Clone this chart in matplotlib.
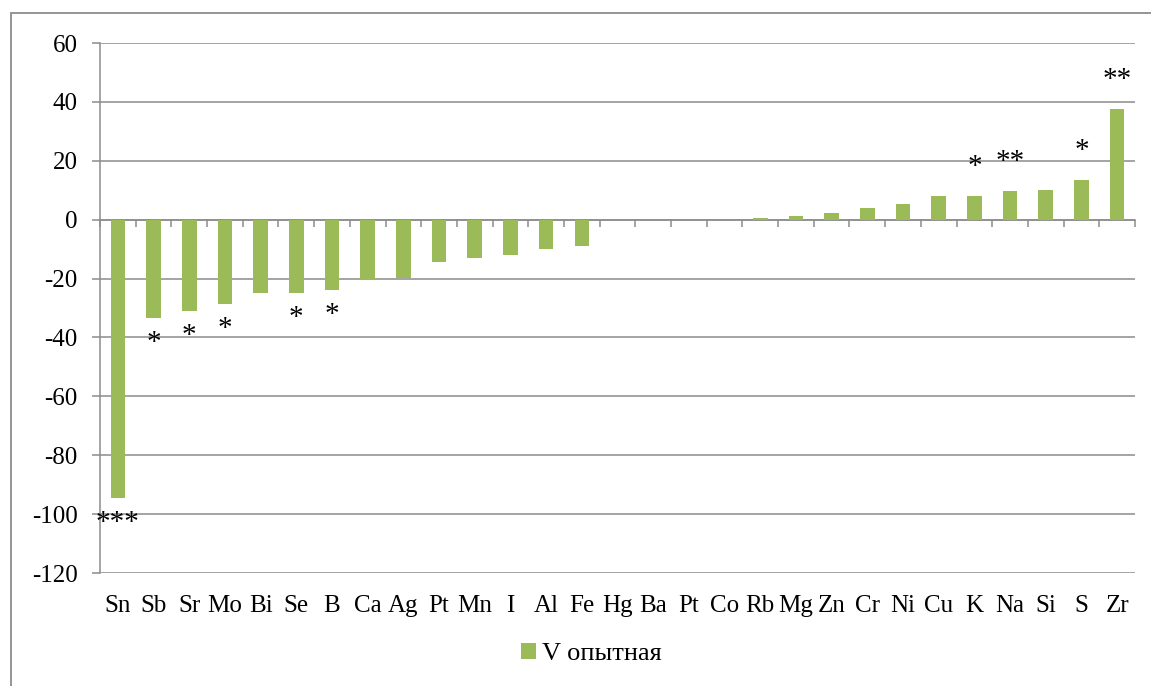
import numpy as np
import matplotlib.pyplot as plt
from matplotlib.patches import Rectangle

plt.rcParams['font.family'] = ['Liberation Serif', 'DejaVu Serif']
plt.rcParams['axes.unicode_minus'] = False

elements = ['Sn', 'Sb', 'Sr', 'Mo', 'Bi', 'Se', 'B', 'Ca', 'Ag', 'Pt', 'Mn', 'I',
            'Al', 'Fe', 'Hg', 'Ba', 'Pt', 'Co', 'Rb', 'Mg', 'Zn', 'Cr', 'Ni', 'Cu',
            'K', 'Na', 'Si', 'S', 'Zr']
v_exp = [-94.6, -33.4, -31.0, -28.7, -25.0, -25.0, -23.9, -20.6, -19.9, -14.3,
         -13.1, -12.1, -9.8, -9.1, 0, 0, 0, 0, 0.7, 1.4, 2.3, 3.8, 5.4, 8.2,
         8.2, 9.7, 10.2, 13.6, 37.5]
stars = ['***', '*', '*', '*', '', '*', '*', '', '', '', '', '', '', '', '', '',
         '', '', '', '', '', '', '', '', '*', '**', '', '*', '**']

green = '#9bbb59'
grid_gray = '#8c8c8c'

fig = plt.figure(figsize=(11.51, 6.86), dpi=100)
ax = fig.add_axes([0.0869, 0.1647, 0.8992, 0.7726])

x = np.arange(len(elements))
ax.bar(x, v_exp, width=0.41, color=green, linewidth=0, zorder=3, label='V опытная')

# significance marks below/above the bar ends
for xi, v, s in zip(x, v_exp, stars):
    if not s:
        continue
    off = 29 if v > 0 else -25
    ax.annotate(s, (xi, v), xytext=(0, off), textcoords='offset pixels',
                ha='center', va='center', fontsize=21, zorder=4)

ax.set_xlim(-0.5, len(elements) - 0.5)
ax.set_ylim(-120, 60)
ax.set_yticks(np.arange(-120, 61, 20))
ax.yaxis.grid(True, color=grid_gray, linewidth=1.1)
ax.set_axisbelow(True)

for side in ['top', 'right', 'bottom']:
    ax.spines[side].set_visible(False)
ax.spines['left'].set_color(grid_gray)
ax.spines['left'].set_linewidth(1.1)
ax.tick_params(axis='y', direction='out', length=6, width=1.1, color=grid_gray,
               labelsize=18, pad=10)
ax.set_xticks(x)
ax.set_xticklabels(elements)
ax.tick_params(axis='x', length=0, labelsize=18, pad=15.5)

# category ticks sitting on the zero line
zero_ax = ax.secondary_xaxis(0, transform=ax.transData)
zero_ax.set_xticks(np.arange(len(elements) + 1) - 0.5)
zero_ax.set_xticklabels([])
zero_ax.tick_params(direction='out', length=5, width=1.1, color=grid_gray)
zero_ax.spines['bottom'].set_color(grid_gray)
zero_ax.spines['bottom'].set_linewidth(1.1)

leg = fig.legend(loc='center', bbox_to_anchor=(0.514, 0.047), frameon=False,
                 fontsize=19, handlelength=0.55, handleheight=0.55,
                 handletextpad=0.25)

# chart frame
fig.patches.append(Rectangle((11 / 1151, -0.1), 1.2, 1 - 13 / 686 + 0.1,
                             transform=fig.transFigure, fill=False,
                             edgecolor='#8c8c8c', linewidth=1.3))

fig.savefig('out.png', dpi=100)
